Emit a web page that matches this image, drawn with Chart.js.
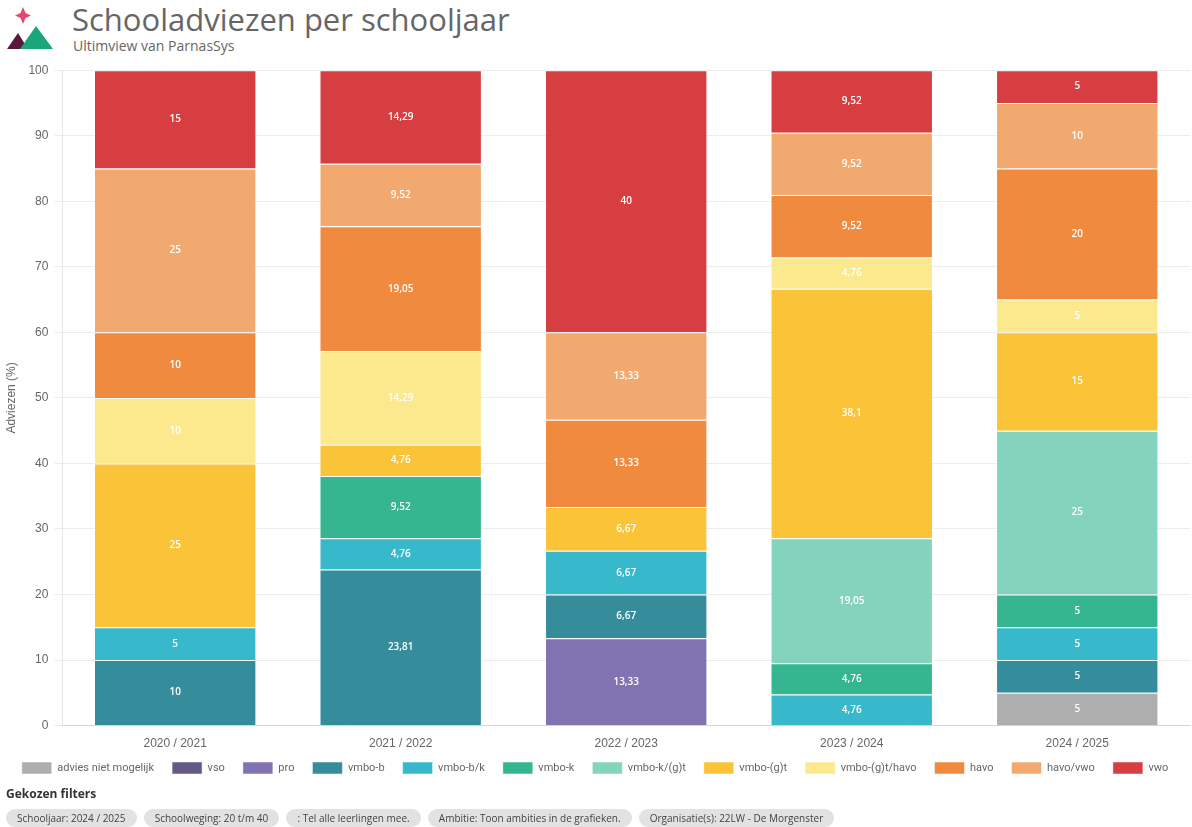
<!DOCTYPE html>
<html>
<head>
<meta charset="utf-8">
<script src="https://cdn.jsdelivr.net/npm/chart.js@4.4.1/dist/chart.umd.min.js"></script>
<style>
  body { margin: 0; background: #fff; font-family: "Open Sans", "Noto Sans", sans-serif; width: 1192px; height: 827px; overflow: hidden; position: relative; }
  #logo { position: absolute; left: 6px; top: 4px; }
  #titel { position: absolute; left: 72px; top: -2px; font-size: 31px; color: #666; }
  #sub { position: absolute; left: 73px; top: 36px; font-size: 14px; color: #666; }
  #wrap { position: absolute; left: 0; top: 57px; width: 1192px; height: 737px; }
  #filters { position: absolute; left: 6px; top: 786px; }
  #filters b { font-size: 12px; line-height: 16px; color: #333; display: block; margin-bottom: 3px; }
  .chip { display: inline-block; background: #e2e2e2; border-radius: 9px; font-size: 10px; line-height: 14px; color: #444; padding: 2px 11px; margin-right: 3px; }
</style>
</head>
<body>
<svg id="logo" width="50" height="46" viewBox="0 0 50 46">
  <path d="M17 3 L19.5 9 L25 11.5 L19.5 14 L17 20 L14.5 14 L9 11.5 L14.5 9 Z" fill="#e5486d"/>
  <path d="M1 45 L12 29 L22 45 Z" fill="#5a1840"/>
  <path d="M14 45 L30 22 L47 45 Z" fill="#19a67a"/>
</svg>
<div id="titel">Schooladviezen per schooljaar</div>
<div id="sub">Ultimview van ParnasSys</div>
<div id="wrap"><canvas id="grafico"></canvas></div>
<div id="filters">
  <b>Gekozen filters</b>
  <span class="chip">Schooljaar: 2024 / 2025</span>
  <span class="chip">Schoolweging: 20 t/m 40</span>
  <span class="chip">: Tel alle leerlingen mee.</span>
  <span class="chip">Ambitie: Toon ambities in de grafieken.</span>
  <span class="chip">Organisatie(s): 22LW - De Morgenster</span>
</div>
<script>
const schooljaren = ['2020 / 2021', '2021 / 2022', '2022 / 2023', '2023 / 2024', '2024 / 2025'];

const adviesNietMogelijk = [0, 0, 0, 0, 5];
const vso = [0, 0, 0, 0, 0];
const pro = [0, 0, 13.33, 0, 0];
const vmboB = [10, 23.81, 6.67, 0, 5];
const vmboBK = [5, 4.76, 6.67, 4.76, 5];
const vmboK = [0, 9.52, 0, 4.76, 5];
const vmboKGT = [0, 0, 0, 19.05, 25];
const vmboGT = [25, 4.76, 6.67, 38.1, 15];
const vmboGTHavo = [10, 14.29, 0, 4.76, 5];
const havo = [10, 19.05, 13.33, 9.52, 20];
const havoVwo = [25, 9.52, 13.33, 9.52, 10];
const vwo = [15, 14.29, 40, 9.52, 5];

const yTicks = [0, 10, 20, 30, 40, 50, 60, 70, 80, 90, 100];

function reeks(label, data, kleur) {
    return {
        label: label,
        data: data,
        backgroundColor: kleur,
        borderColor: 'rgba(255,255,255,0.5)',
        borderWidth: 1,
        categoryPercentage: 0.8,
        barPercentage: 0.9
    };
}

// labels in de balken + legenda iets omhoog
const waardeLabels = {
    id: 'waardeLabels',
    afterUpdate(chart) {
        chart.legend.top -= 10;
        chart.legend.bottom -= 10;
    },
    afterDatasetsDraw(chart) {
        const ctx = chart.ctx;
        ctx.save();
        ctx.font = '600 10px "Open Sans", sans-serif';
        ctx.fillStyle = '#fff';
        ctx.textAlign = 'center';
        ctx.textBaseline = 'middle';
        chart.data.datasets.forEach((ds, i) => {
            const meta = chart.getDatasetMeta(i);
            meta.data.forEach((bar, j) => {
                const v = ds.data[j];
                if (!v) return;
                const midden = (bar.y + bar.base) / 2;
                ctx.fillText(String(v).replace('.', ','), bar.x, midden);
            });
        });
        ctx.restore();
    }
};

const ctx = document.getElementById('grafico');
new Chart(ctx, {
    type: 'bar',
    data: {
        labels: schooljaren,
        datasets: [
            reeks('advies niet mogelijk', adviesNietMogelijk, 'rgba(170,170,170,0.95)'),
            reeks('vso', vso, 'rgba(92,80,126,0.95)'),
            reeks('pro', pro, 'rgba(122,106,174,0.95)'),
            reeks('vmbo-b', vmboB, 'rgba(42,135,150,0.95)'),
            reeks('vmbo-b/k', vmboBK, 'rgba(45,180,200,0.95)'),
            reeks('vmbo-k', vmboK, 'rgba(42,178,138,0.95)'),
            reeks('vmbo-k/(g)t', vmboKGT, 'rgba(125,210,185,0.95)'),
            reeks('vmbo-(g)t', vmboGT, 'rgba(250,192,45,0.95)'),
            reeks('vmbo-(g)t/havo', vmboGTHavo, 'rgba(252,232,136,0.95)'),
            reeks('havo', havo, 'rgba(239,132,52,0.95)'),
            reeks('havo/vwo', havoVwo, 'rgba(241,164,104,0.95)'),
            reeks('vwo', vwo, 'rgba(212,52,55,0.95)')
        ]
    },
    options: {
        responsive: true,
        maintainAspectRatio: false,
        animation: false,
        layout: { padding: { left: 0, right: 2, top: 8 } },
        plugins: {
            legend: {
                position: 'bottom',
                labels: {
                    boxWidth: 30,
                    boxHeight: 12,
                    padding: 18,
                    color: '#666',
                    font: { size: 11, family: 'Roboto, sans-serif' }
                }
            },
            tooltip: { enabled: false }
        },
        scales: {
            x: {
                stacked: true,
                grid: { display: false },
                ticks: { color: '#666', font: { size: 12 } }
            },
            y: {
                stacked: true,
                min: 0,
                max: 100,
                afterBuildTicks(axis) { axis.ticks = yTicks.map(v => ({ value: v })); },
                grid: { color: '#ececec' },
                ticks: { color: '#666', font: { size: 12 }, padding: 6 },
                title: { display: true, text: 'Adviezen (%)', color: '#666', font: { size: 12 } }
            }
        }
    },
    plugins: [waardeLabels]
});
</script>
</body>
</html>
